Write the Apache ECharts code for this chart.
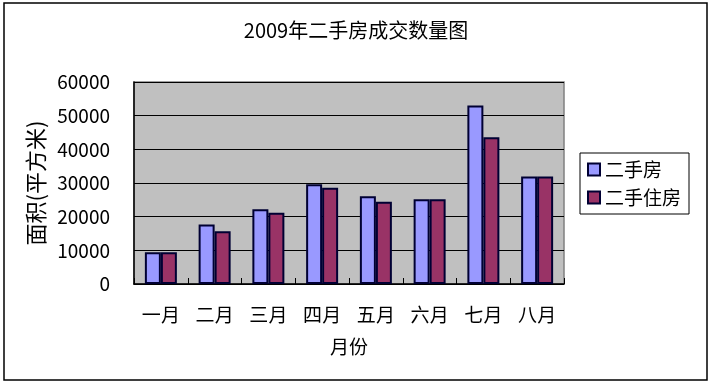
<!DOCTYPE html>
<html><head><meta charset="utf-8">
<script src="https://cdn.jsdelivr.net/npm/echarts@6/dist/echarts.min.js"></script>
<style>html,body{margin:0;padding:0;background:#fff}#c{width:712px;height:384px}</style>
</head><body><div id="c"></div>
<script>
const titleText = '2009年二手房成交数量图';
const categories = ['一月','二月','三月','四月','五月','六月','七月','八月'];
const seriesNames = ['二手房','二手住房'];
const ershoufang = [9400, 17700, 22200, 29600, 26100, 25200, 53000, 31900];
const ershouzhufang = [9400, 15700, 21200, 28600, 24400, 25200, 43600, 31900];
const yTicks = [0, 10000, 20000, 30000, 40000, 50000, 60000];
const FONT = "'Noto Sans CJK SC', 'Noto Sans', sans-serif";

const chart = echarts.init(document.getElementById('c'), null, {renderer: 'canvas'});
chart.setOption({
  animation: false,
  backgroundColor: '#fff',
  textStyle: {fontFamily: FONT, color: '#000'},
  graphic: [{
    type: 'rect', shape: {x: 4, y: 3, width: 703, height: 377},
    style: {fill: null, stroke: '#000', lineWidth: 1.5}, silent: true, z: -1
  }],
  title: {
    text: titleText, left: 'center', top: 15,
    textStyle: {fontFamily: FONT, fontSize: 20, fontWeight: 'normal', color: '#000'}
  },
  legend: {
    orient: 'vertical', left: 580, top: 153,
    padding: [7, 8, 7, 7], itemGap: 9,
    itemWidth: 12, itemHeight: 12,
    borderColor: '#000', borderWidth: 1, backgroundColor: '#fff',
    textStyle: {fontFamily: FONT, fontSize: 19, color: '#000'},
    data: seriesNames.map(n => ({name: n, icon: 'rect'}))
  },
  grid: {
    left: 134, top: 82, right: 148, bottom: 100,
    show: true, backgroundColor: '#C0C0C0', borderColor: '#808080', borderWidth: 1.5
  },
  xAxis: {
    type: 'category', data: categories,
    name: '月份', nameLocation: 'middle', nameGap: 53,
    nameTextStyle: {fontFamily: FONT, fontSize: 19, color: '#000'},
    axisLine: {lineStyle: {color: '#000', width: 1.5}},
    axisTick: {show: true, inside: true, length: 6, lineStyle: {color: '#000'}},
    axisLabel: {fontFamily: FONT, fontSize: 19, color: '#000', margin: 21}
  },
  yAxis: {
    type: 'value', min: yTicks[0], max: yTicks[yTicks.length - 1], interval: 10000,
    name: '面积(平方米)', nameLocation: 'middle', nameGap: 86,
    nameTextStyle: {fontFamily: FONT, fontSize: 22, color: '#000'},
    axisLine: {show: true, lineStyle: {color: '#000', width: 1.5}},
    axisTick: {show: false},
    splitLine: {lineStyle: {color: '#000', width: 1}},
    axisLabel: {fontFamily: FONT, fontSize: 19, color: '#000', margin: 24,
                formatter: v => String(v)}
  },
  series: [
    {name: seriesNames[0], type: 'bar', data: ershoufang, barWidth: 16, barGap: '0%',
     itemStyle: {color: '#9999FF', borderColor: '#000033', borderWidth: 2}},
    {name: seriesNames[1], type: 'bar', data: ershouzhufang, barWidth: 16, barGap: '0%',
     itemStyle: {color: '#993366', borderColor: '#000033', borderWidth: 2}}
  ]
});
</script></body></html>
